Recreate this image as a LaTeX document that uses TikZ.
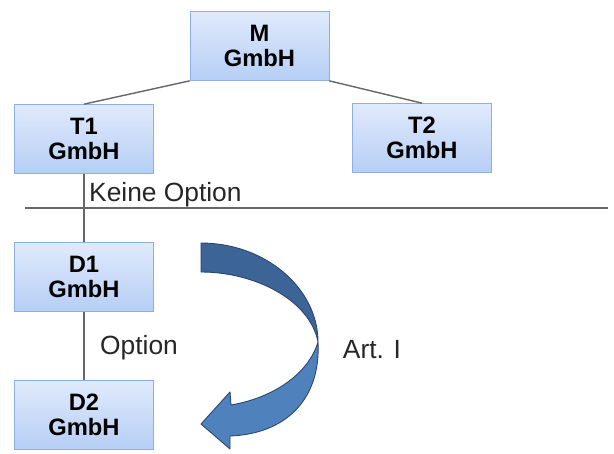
\documentclass[tikz,border=0pt]{standalone}
\usepackage{fontspec}
\setmainfont{Liberation Sans}
\usepackage{tikz}
\usetikzlibrary{positioning}
\definecolor{boxtop}{RGB}{224,234,252}
\definecolor{boxbot}{RGB}{182,206,245}
\definecolor{boxedge}{RGB}{140,176,226}
\definecolor{arrdark}{RGB}{60,100,150}
\definecolor{arrlight}{RGB}{79,129,189}
\definecolor{arredge}{RGB}{40,70,110}
\tikzstyle{block} = [rectangle, draw = boxedge, top color = boxtop, bottom color = boxbot, minimum width = 2.78cm, minimum height = 1.38cm, align = center, font = \fontsize{13.5}{14}\selectfont\bfseries]
\tikzstyle{line} = [draw, gray!80!black, line width = 0.8pt]
\tikzstyle{note} = [font = \fontsize{15}{17}\selectfont, text = black!85]
\tikzstyle{bent} = [draw = arredge, line width = 0.5pt, line join = round]
\begin{document}
\begin{tikzpicture}[x = 0.02cm, y = -0.02cm]
			\useasboundingbox (0, 0) rectangle (614, 453);
			% Place nodes
			\node [block] (m) at (259.5, 46) {M\\GmbH};
			\node [block] (t1) at (84, 139) {T1\\GmbH};
			\node [block] (t2) at (422, 138) {T2\\GmbH};
			\node [block] (d1) at (84, 277) {D1\\GmbH};
			\node [block] (d2) at (84, 415) {D2\\GmbH};
			
			\coordinate (cutl) at (25, 208);
			\coordinate (cutr) at (608, 208);
			\node [note, anchor = west] (keine) at (83, 195) {Keine Option};
			\node [note] (option) at (139, 348) {Option};
			\node [note] (art) at (372, 350) {Art. I};
			
			% Draw edges
			\path [line] (m.south west) -- (t1.north);
			\path [line] (m.south east) -- (t2.north);
			\path [line] (t1.south) -- (d1.north);
			\path [line] (d1.south) -- (d2.north);
			\path [line] (cutl) -- (cutr);
			
			% Curved arrow
			\coordinate (pinch) at (318, 342);
			\path [bent, fill = arrdark] (201, 243) .. controls (265, 243) and (318, 288) .. (pinch)
				.. controls (310, 300) and (255, 272) .. (201, 272) -- cycle;
			\path [bent, fill = arrlight] (pinch) .. controls (321, 400) and (285, 434) .. (230, 436)
				-- (230, 449) -- (201, 424) -- (230, 392) -- (231, 405)
				.. controls (272, 398) and (308, 375) .. (pinch) -- cycle;
		\end{tikzpicture}
\end{document}
